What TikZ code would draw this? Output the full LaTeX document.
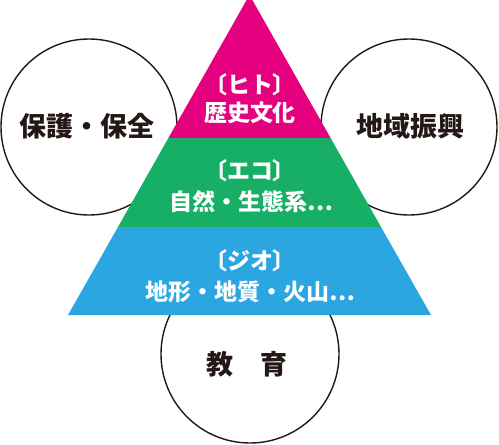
\documentclass[tikz,border=0pt]{standalone}
\usepackage{fontspec}
\newfontfamily\jpfont{Noto Sans CJK JP}
\definecolor{hitocol}{HTML}{E4007F}
\definecolor{ecocol}{HTML}{17AE65}
\definecolor{geocol}{HTML}{2BA6E0}
\definecolor{inkcol}{HTML}{231815}

\begin{document}
\begin{tikzpicture}[x=1pt, y=-1pt, every node/.style={inner sep=0pt},
  ring/.style={draw=inkcol, line width=1.4pt},
  ringtext/.style={text=inkcol, font=\jpfont\bfseries\fontsize{27}{30}\selectfont},
  bandtext/.style={text=white, font=\jpfont\bfseries\fontsize{23}{27}\selectfont}]
  \useasboundingbox (0,0) rectangle (499,445);
  \clip (0,0) rectangle (499,445);
  % Circles
  \draw[ring] (89,127) circle (88);
  \draw[ring] (409,127) circle (88);
  \draw[ring] (250,354) circle (89);
  % Circle labels
  \node[ringtext] (hogo) at (87,126) {保護・保全};
  \node[ringtext] (shinko) at (410,126) {地域振興};
  \node[ringtext] (kyoiku) at (247,364) {教　育};
  % Pyramid bands
  \fill[hitocol] (249.5,-5) -- (330.6,138) -- (168.4,138) -- cycle;
  \fill[ecocol] (168.4,138) -- (330.6,138) -- (381,227) -- (118,227) -- cycle;
  \fill[geocol] (118,227) -- (381,227) -- (431,315) -- (68,315) -- cycle;
  % Band labels
  \node[bandtext] (hito) at (250,85) {〔ヒト〕};
  \node[bandtext] (rekishi) at (250,113) {歴史文化};
  \node[bandtext] (eco) at (250,171) {〔エコ〕};
  \node[bandtext] (shizen) at (251,202) {自然・生態系…};
  \node[bandtext] (geo) at (250,261) {〔ジオ〕};
  \node[bandtext] (chikei) at (250,292) {地形・地質・火山…};
\end{tikzpicture}
\end{document}
